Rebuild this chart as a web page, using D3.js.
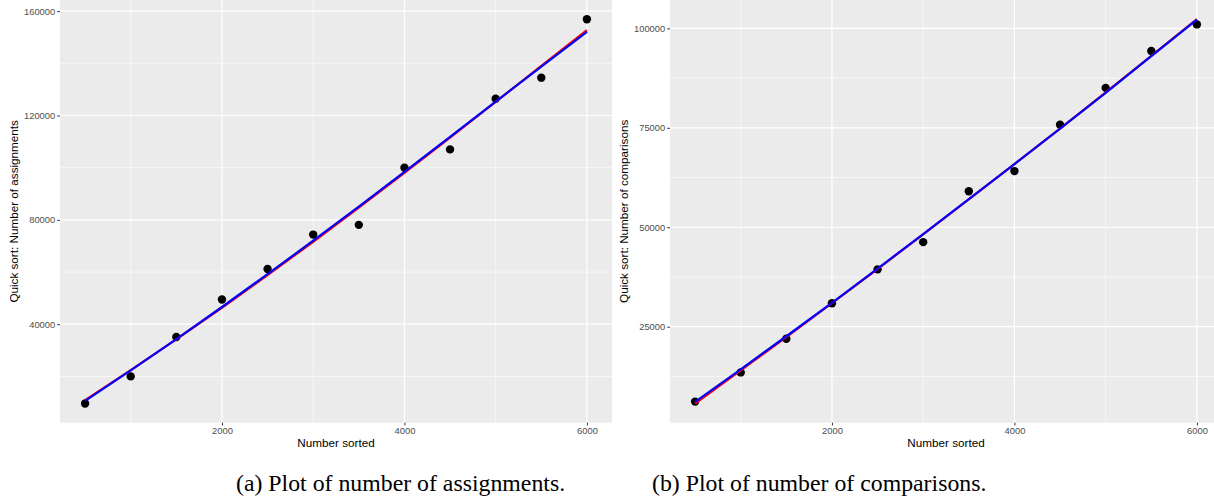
<!DOCTYPE html>
<html>
<head>
<meta charset="utf-8">
<script src="https://cdn.jsdelivr.net/npm/d3@7"></script>
<style>
  html, body { margin: 0; padding: 0; background: #fff; }
  svg { display: block; }
  .tick-label { font-family: "Liberation Sans", Arial, sans-serif; font-size: 9.4px; fill: #4d4d4d; }
  .axis-title { font-family: "Liberation Sans", Arial, sans-serif; font-size: 11.7px; fill: #000; }
  .caption { font-family: "Liberation Serif", "Times New Roman", serif; font-size: 23.8px; fill: #000; }
</style>
</head>
<body>
<svg id="chart" width="1214" height="499"></svg>
<script>
// data
var sizes = [500, 1000, 1500, 2000, 2500, 3000, 3500, 4000, 4500, 5000, 5500, 6000];

var assignPoints = [9615, 20000, 35100, 49460, 61150, 74350, 78080, 100000, 107000, 126400, 134500, 156900];
var assignFitRed = [10900, 22400, 34200, 46300, 58800, 71600, 84700, 98000, 111500, 125200, 139000, 152700];
var assignFitBlue = [10600, 22300, 34300, 46600, 59200, 72000, 85100, 98400, 111800, 125300, 138700, 152000];

var compPoints = [6170, 13510, 21960, 30900, 39420, 46260, 59060, 64120, 75760, 85040, 94330, 100990];
var compFitRed = [5700, 14000, 22400, 30900, 39500, 48200, 57000, 65900, 74800, 83900, 93100, 102300];
var compFitBlue = [6100, 14300, 22600, 31000, 39600, 48300, 57100, 65900, 74800, 83800, 93000, 102200];

var xTicks = [2000, 4000, 6000];
var xMinor = [1000, 3000, 5000];
var assignTicks = [40000, 80000, 120000, 160000];
var assignMinor = [20000, 60000, 100000, 140000];
var compTicks = [25000, 50000, 75000, 100000];
var compMinor = [12500, 37500, 62500, 87500];

var svg = d3.select("#chart");

function expand(ext) {
  var pad = (ext[1] - ext[0]) * 0.05;
  return [ext[0] - pad, ext[1] + pad];
}

function drawPanel(opt) {
  var left = opt.left, right = opt.right, top = 0, bottom = 422.7;
  var g = svg.append("g");

  var x = d3.scaleLinear().domain(expand(d3.extent(sizes))).range([left, right]);
  var allY = opt.points.concat(opt.red, opt.blue);
  var y = d3.scaleLinear().domain(expand(d3.extent(allY))).range([bottom, top]);

  var clipId = "clip" + opt.id;
  svg.append("clipPath").attr("id", clipId)
    .append("rect").attr("x", left).attr("y", top)
    .attr("width", right - left).attr("height", bottom - top);

  g.append("rect")
    .attr("x", left).attr("y", top)
    .attr("width", right - left).attr("height", bottom - top)
    .attr("fill", "#ebebeb");

  // grid
  var grid = g.append("g").attr("clip-path", "url(#" + clipId + ")");
  grid.selectAll(".vminor").data(xMinor).join("line")
    .attr("x1", d => x(d)).attr("x2", d => x(d))
    .attr("y1", top).attr("y2", bottom)
    .attr("stroke", "#fff").attr("stroke-width", 0.6);
  grid.selectAll(".hminor").data(opt.minor).join("line")
    .attr("class", "hminor")
    .attr("y1", d => y(d)).attr("y2", d => y(d))
    .attr("x1", left).attr("x2", right)
    .attr("stroke", "#fff").attr("stroke-width", 0.6);
  grid.selectAll(".vmajor").data(xTicks).join("line")
    .attr("class", "vmajor")
    .attr("x1", d => x(d)).attr("x2", d => x(d))
    .attr("y1", top).attr("y2", bottom)
    .attr("stroke", "#fff").attr("stroke-width", 1.2);
  grid.selectAll(".hmajor").data(opt.ticks).join("line")
    .attr("class", "hmajor")
    .attr("y1", d => y(d)).attr("y2", d => y(d))
    .attr("x1", left).attr("x2", right)
    .attr("stroke", "#fff").attr("stroke-width", 1.2);

  // axes
  var xAxis = g.append("g")
    .attr("transform", "translate(0," + bottom + ")")
    .call(d3.axisBottom(x).tickValues(xTicks).tickSize(2.75).tickPadding(2).tickFormat(d3.format("d")));
  var yAxis = g.append("g")
    .attr("transform", "translate(" + left + ",0)")
    .call(d3.axisLeft(y).tickValues(opt.ticks).tickSize(2.75).tickPadding(2).tickFormat(d3.format("d")));
  [xAxis, yAxis].forEach(function (a) {
    a.select(".domain").remove();
    a.selectAll(".tick line").attr("stroke", "#333").attr("stroke-width", 1);
    a.selectAll(".tick text").attr("class", "tick-label").attr("fill", null);
    a.attr("font-family", null).attr("font-size", null);
  });

  // fitted lines and points
  var line = d3.line().x((d, i) => x(sizes[i])).y(d => y(d));
  var marks = g.append("g").attr("clip-path", "url(#" + clipId + ")");
  marks.selectAll("circle").data(opt.points).join("circle")
    .attr("cx", (d, i) => x(sizes[i]))
    .attr("cy", d => y(d))
    .attr("r", 4.2)
    .attr("fill", "#000");
  marks.append("path").datum(opt.red)
    .attr("d", line).attr("fill", "none")
    .attr("stroke", "#ff0000").attr("stroke-width", 2.2);
  marks.append("path").datum(opt.blue)
    .attr("d", line).attr("fill", "none")
    .attr("stroke", "#0000ff").attr("stroke-width", 2.2);

  // titles
  g.append("text").attr("class", "axis-title")
    .attr("x", (left + right) / 2).attr("y", 447)
    .attr("text-anchor", "middle")
    .text("Number sorted");
  g.append("text").attr("class", "axis-title")
    .attr("transform", "translate(" + opt.yTitleX + "," + (bottom / 2) + ") rotate(-90)")
    .attr("text-anchor", "middle")
    .text(opt.yTitle);

  g.append("text").attr("class", "caption")
    .attr("x", opt.captionX).attr("y", 491)
    .text(opt.caption);
}

drawPanel({
  id: "a", left: 60, right: 612,
  points: assignPoints, red: assignFitRed, blue: assignFitBlue,
  ticks: assignTicks, minor: assignMinor,
  yTitle: "Quick sort: Number of assignments", yTitleX: 18,
  caption: "(a) Plot of number of assignments.", captionX: 236
});

drawPanel({
  id: "b", left: 670, right: 1222,
  points: compPoints, red: compFitRed, blue: compFitBlue,
  ticks: compTicks, minor: compMinor,
  yTitle: "Quick sort: Number of comparisons", yTitleX: 628,
  caption: "(b) Plot of number of comparisons.", captionX: 652
});
</script>
</body>
</html>
